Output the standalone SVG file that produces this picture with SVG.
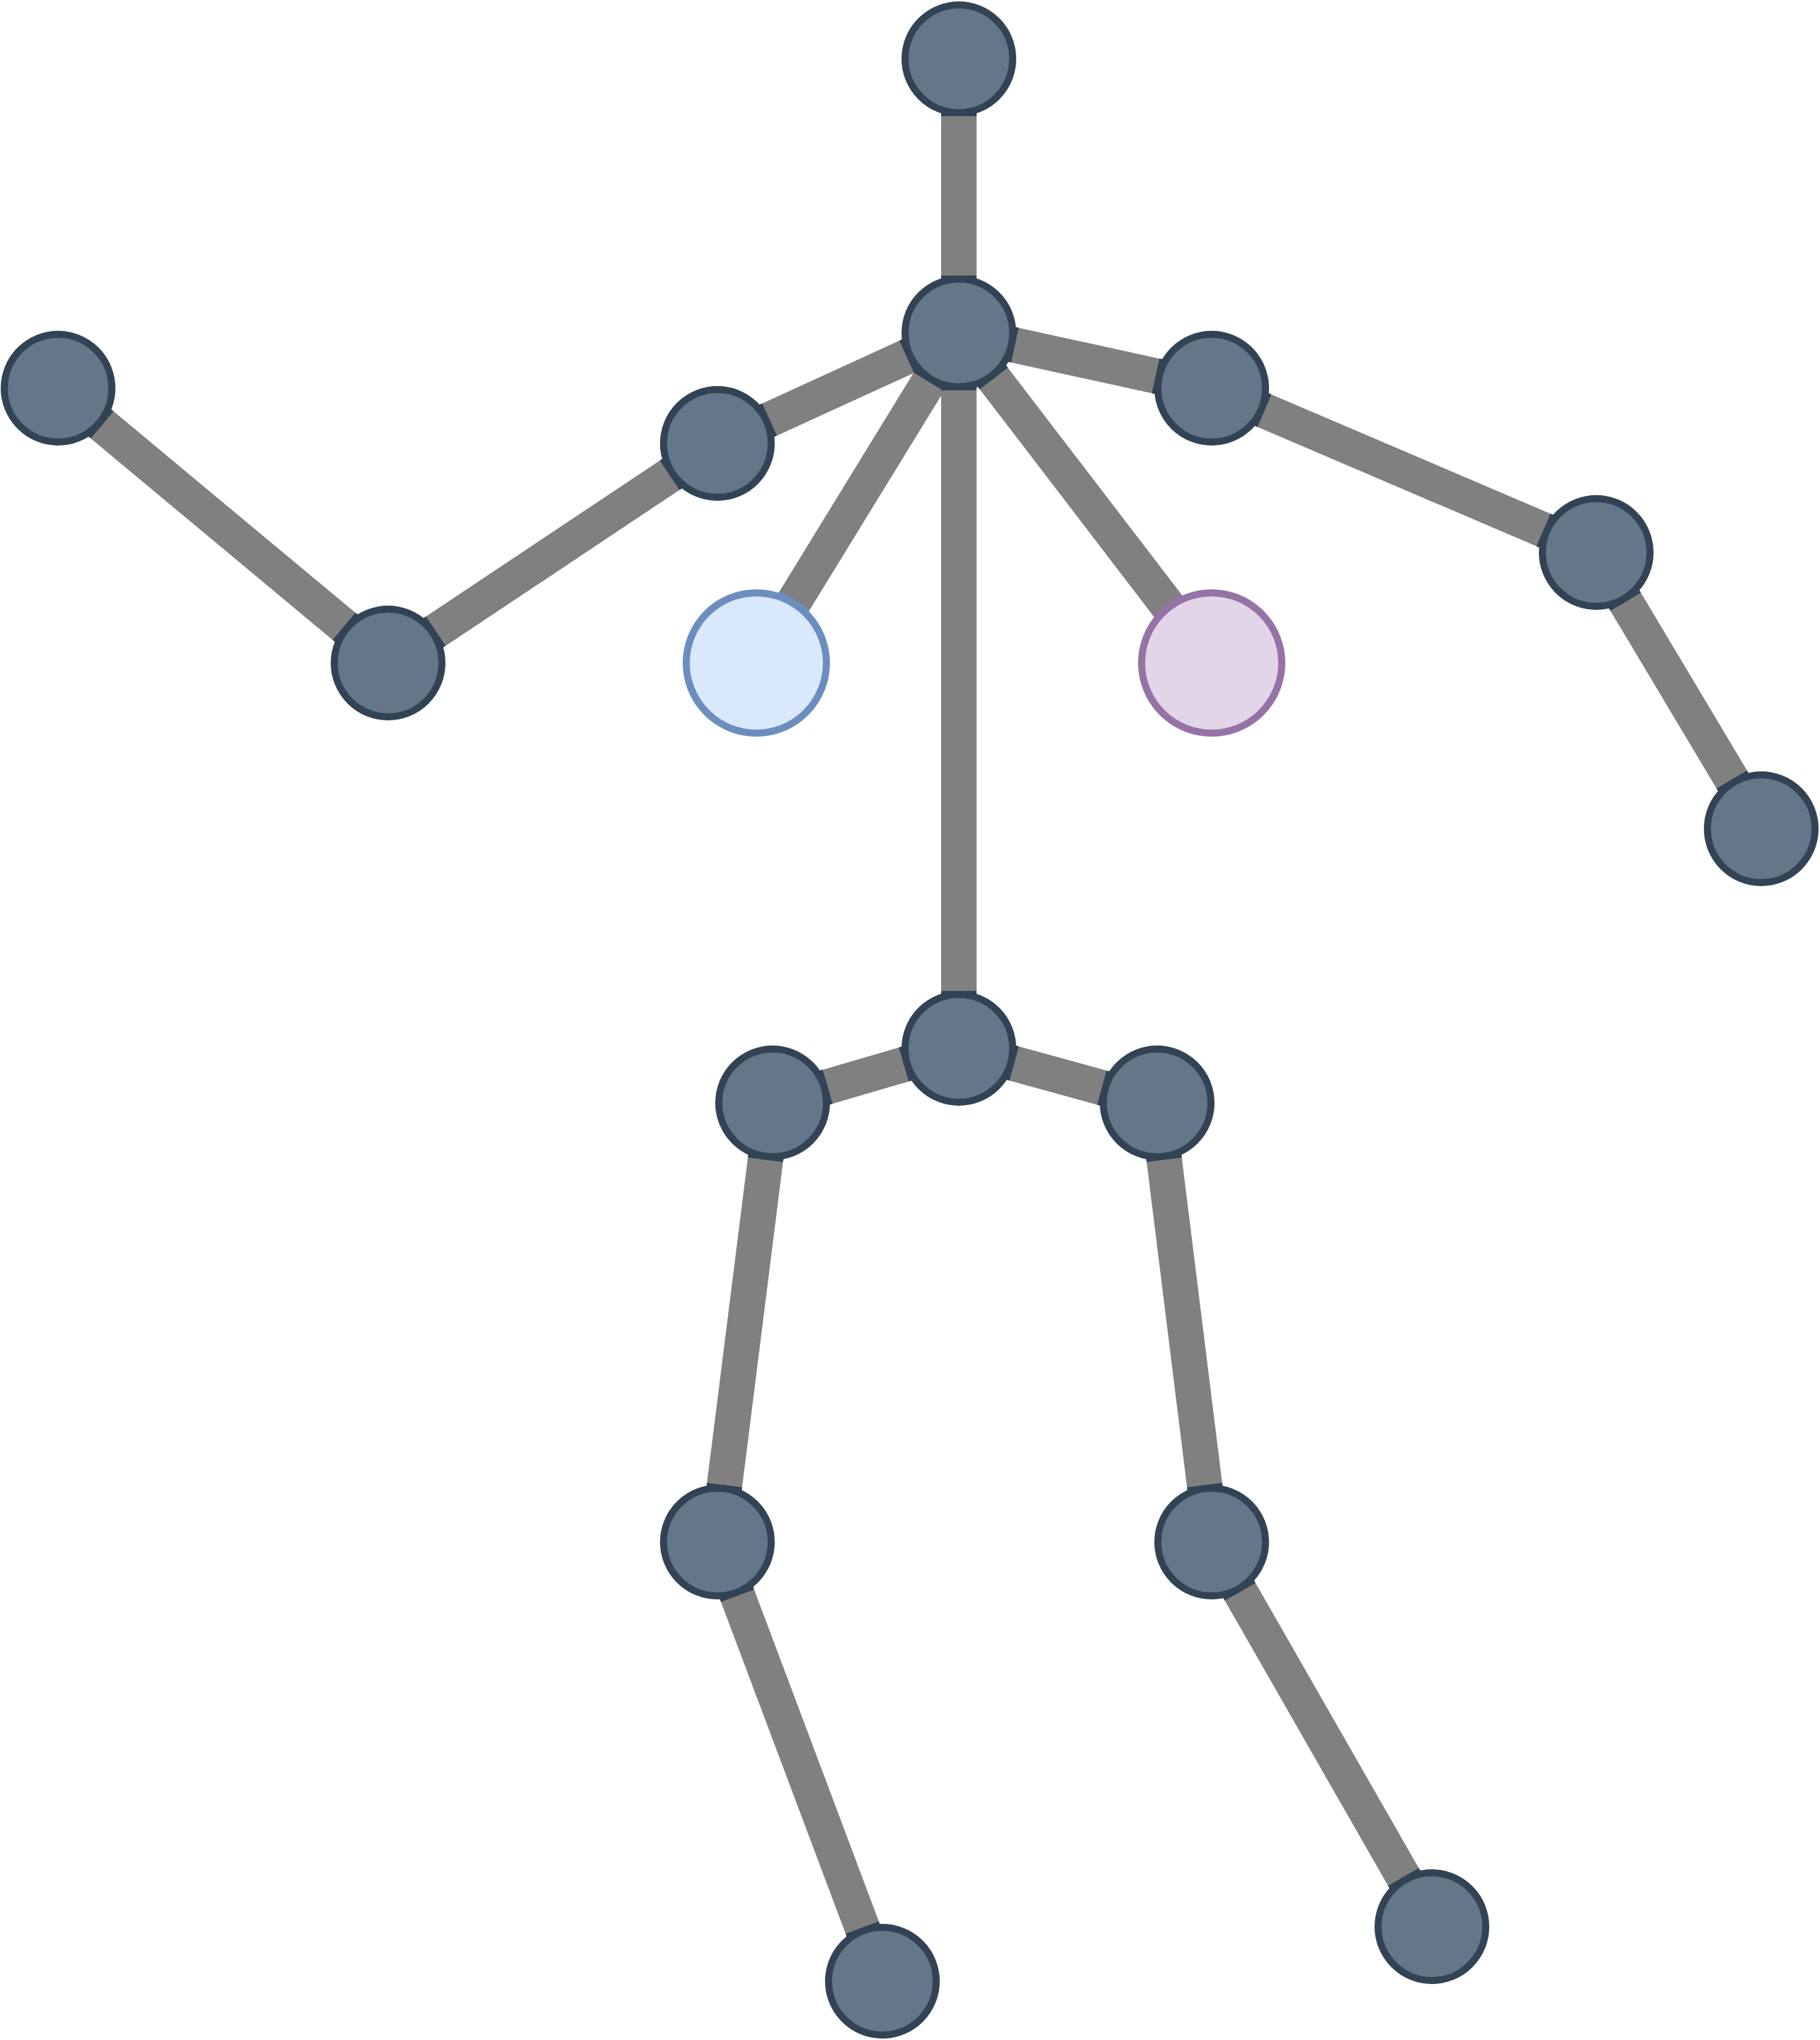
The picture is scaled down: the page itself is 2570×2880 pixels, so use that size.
<svg xmlns="http://www.w3.org/2000/svg" width="2570" height="2880" viewBox="0 0 2570 2880">
<style>
.bone{stroke:#808080;stroke-width:50;stroke-linecap:butt;fill:none}
.cap{stroke:none;fill:none;marker-start:url(#capS);marker-end:url(#capE)}
.cap.eyeB{marker-end:url(#capEB)}
.cap.eyeP{marker-end:url(#capEP)}
.joint{fill:#647687;stroke:#314354;stroke-width:10}
.eyeBlue{fill:#dae8fc;stroke:#6c8ebf;stroke-width:10}
.eyePurple{fill:#e1d5e7;stroke:#9673a6;stroke-width:10}
</style>
<defs>
<marker id="capS" markerUnits="userSpaceOnUse" orient="auto" markerWidth="240" markerHeight="240" viewBox="-120 -120 240 240" refX="0" refY="0" overflow="visible"><rect x="0" y="-25" width="81" height="50" fill="#314354"/></marker>
<marker id="capE" markerUnits="userSpaceOnUse" orient="auto" markerWidth="240" markerHeight="240" viewBox="-120 -120 240 240" refX="0" refY="0" overflow="visible"><rect x="-81" y="-25" width="81" height="50" fill="#314354"/></marker>
<marker id="capEB" markerUnits="userSpaceOnUse" orient="auto" markerWidth="240" markerHeight="240" viewBox="-120 -120 240 240" refX="0" refY="0" overflow="visible"><rect x="-104" y="-25" width="104" height="50" fill="#6c8ebf"/></marker>
<marker id="capEP" markerUnits="userSpaceOnUse" orient="auto" markerWidth="240" markerHeight="240" viewBox="-120 -120 240 240" refX="0" refY="0" overflow="visible"><rect x="-104" y="-25" width="104" height="50" fill="#9673a6"/></marker>
</defs>
<g id="connectors">
<g class="bone">
<line x1="1354" y1="83" x2="1354" y2="470"/>
<line x1="1354" y1="470" x2="1013" y2="626"/>
<line x1="1013" y1="626" x2="548" y2="936"/>
<line x1="548" y1="936" x2="82" y2="548"/>
<line x1="1354" y1="470" x2="1711" y2="548"/>
<line x1="1711" y1="548" x2="2254" y2="780"/>
<line x1="2254" y1="780" x2="2487" y2="1170"/>
<line x1="1354" y1="470" x2="1068" y2="936"/>
<line x1="1354" y1="470" x2="1711" y2="936"/>
<line x1="1354" y1="470" x2="1354" y2="1480"/>
<line x1="1354" y1="1480" x2="1091" y2="1557"/>
<line x1="1354" y1="1480" x2="1634" y2="1557"/>
<line x1="1091" y1="1557" x2="1013" y2="2177"/>
<line x1="1013" y1="2177" x2="1246" y2="2797"/>
<line x1="1634" y1="1557" x2="1711" y2="2177"/>
<line x1="1711" y1="2177" x2="2022" y2="2720"/>
</g>
<g id="bone-ends">
<line class="cap" x1="1354" y1="83" x2="1354" y2="470"/>
<line class="cap" x1="1354" y1="470" x2="1013" y2="626"/>
<line class="cap" x1="1013" y1="626" x2="548" y2="936"/>
<line class="cap" x1="548" y1="936" x2="82" y2="548"/>
<line class="cap" x1="1354" y1="470" x2="1711" y2="548"/>
<line class="cap" x1="1711" y1="548" x2="2254" y2="780"/>
<line class="cap" x1="2254" y1="780" x2="2487" y2="1170"/>
<line class="cap eyeB" x1="1354" y1="470" x2="1068" y2="936"/>
<line class="cap eyeP" x1="1354" y1="470" x2="1711" y2="936"/>
<line class="cap" x1="1354" y1="470" x2="1354" y2="1480"/>
<line class="cap" x1="1354" y1="1480" x2="1091" y2="1557"/>
<line class="cap" x1="1354" y1="1480" x2="1634" y2="1557"/>
<line class="cap" x1="1091" y1="1557" x2="1013" y2="2177"/>
<line class="cap" x1="1013" y1="2177" x2="1246" y2="2797"/>
<line class="cap" x1="1634" y1="1557" x2="1711" y2="2177"/>
<line class="cap" x1="1711" y1="2177" x2="2022" y2="2720"/>
</g>
</g>
<g id="head"><circle class="joint" cx="1354" cy="83" r="76"/></g>
<g id="neck"><circle class="joint" cx="1354" cy="470" r="76"/></g>
<g id="shoulder-left"><circle class="joint" cx="1013" cy="626" r="76"/></g>
<g id="elbow-left"><circle class="joint" cx="548" cy="936" r="76"/></g>
<g id="hand-left"><circle class="joint" cx="82" cy="548" r="76"/></g>
<g id="shoulder-right"><circle class="joint" cx="1711" cy="548" r="76"/></g>
<g id="elbow-right"><circle class="joint" cx="2254" cy="780" r="76"/></g>
<g id="hand-right"><circle class="joint" cx="2487" cy="1170" r="76"/></g>
<g id="eye-left"><circle class="eyeBlue" cx="1068" cy="936" r="99"/></g>
<g id="eye-right"><circle class="eyePurple" cx="1711" cy="936" r="99"/></g>
<g id="pelvis"><circle class="joint" cx="1354" cy="1480" r="76"/></g>
<g id="hip-left"><circle class="joint" cx="1091" cy="1557" r="76"/></g>
<g id="hip-right"><circle class="joint" cx="1634" cy="1557" r="76"/></g>
<g id="knee-left"><circle class="joint" cx="1013" cy="2177" r="76"/></g>
<g id="foot-left"><circle class="joint" cx="1246" cy="2797" r="76"/></g>
<g id="knee-right"><circle class="joint" cx="1711" cy="2177" r="76"/></g>
<g id="foot-right"><circle class="joint" cx="2022" cy="2720" r="76"/></g>
</svg>
